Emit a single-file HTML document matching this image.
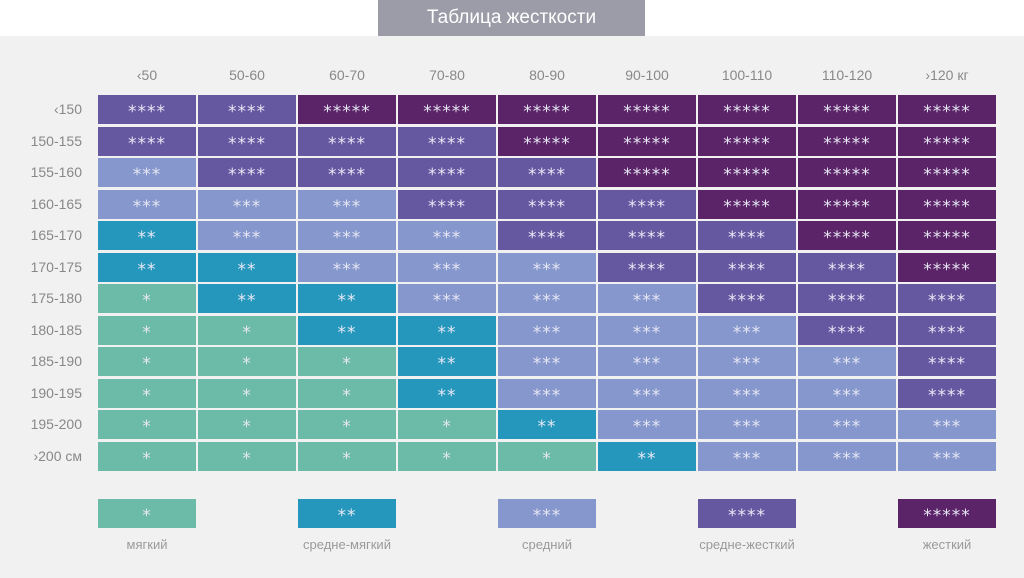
<!DOCTYPE html>
<html><head><meta charset="utf-8"><style>
body{margin:0;width:1024px;height:578px;background:#fff;position:relative;overflow:hidden;font-family:"Liberation Sans",sans-serif;}
#panel{position:absolute;left:0;top:36px;width:1024px;height:542px;background:#f1f1f1;}
#title{position:absolute;left:378px;top:0;width:267px;height:36px;background:#9c9ca8;color:#fff;font-size:19px;text-align:center;line-height:36px;}
.c{position:absolute;width:98px;height:29px;color:#e8e8f4;font-size:17px;text-align:center;line-height:35px;letter-spacing:1px;font-family:"DejaVu Sans",sans-serif;}
.h{position:absolute;width:98px;text-align:center;color:#888;font-size:14px;top:67px;}
.r{position:absolute;left:0;width:82px;text-align:right;color:#888;font-size:14px;}
.l{position:absolute;width:160px;text-align:center;color:#9a9a9a;font-size:13px;top:537px;}
.k1{background:#6cbaa8}.k2{background:#2597bc}.k3{background:#8597cc}.k4{background:#6657a1}.k5{background:#5c2468}
</style></head><body>
<div id="panel"></div><div id="title">Таблица жесткости</div>
<div id="g"></div>
<script>
var cols=["‹50","50-60","60-70","70-80","80-90","90-100","100-110","110-120","›120 кг"];
var rows=["‹150","150-155","155-160","160-165","165-170","170-175","175-180","180-185","185-190","190-195","195-200","›200 см"];
var d=["445555555","444455555","344445555","333444555","233344455","223334445","122333444","112233344","111233334","111233334","111123333","111112333"];
var h="";
cols.forEach(function(c,i){h+='<div class="h" style="left:'+(98+i*100)+'px">'+c+'</div>';});
rows.forEach(function(r,j){var y=95+j*31.5;h+='<div class="r" style="top:'+(y+6)+'px">'+r+'</div>';
for(var i=0;i<9;i++){var v=+d[j][i];h+='<div class="c k'+v+'" style="left:'+(98+i*100)+'px;top:'+y+'px">'+"*".repeat(v)+'</div>';}});
var ln=["мягкий","средне-мягкий","средний","средне-жесткий","жесткий"];
ln.forEach(function(t,i){var x=98+i*200;h+='<div class="c k'+(i+1)+'" style="left:'+x+'px;top:499px">'+"*".repeat(i+1)+'</div><div class="l" style="left:'+(x-31)+'px">'+t+'</div>';});
document.getElementById("g").innerHTML=h;
</script>
</body></html>
